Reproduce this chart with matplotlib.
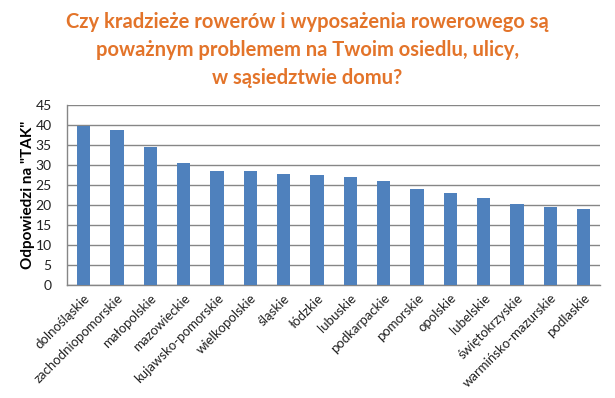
import matplotlib
matplotlib.use('Agg')
import matplotlib.pyplot as plt

plt.rcParams['font.family'] = ['Lato', 'DejaVu Sans']

regions = ['dolnośląskie', 'zachodniopomorskie', 'małopolskie', 'mazowieckie',
           'kujawsko-pomorskie', 'wielkopolskie', 'śląskie', 'łódzkie', 'lubuskie',
           'podkarpackie', 'pomorskie', 'opolskie', 'lubelskie', 'świętokrzyskie',
           'warmińsko-mazurskie', 'podlaskie']
tak = [39.7, 38.7, 34.4, 30.5, 28.5, 28.5, 27.7, 27.5, 27.0,
       26.0, 24.0, 23.0, 21.8, 20.3, 19.5, 19.0]
yticks = list(range(0, 50, 5))

fig = plt.figure(figsize=(6.15, 3.98), dpi=100)
ax = fig.add_axes([0.109, 0.284, 0.867, 0.452])

ax.bar(range(len(regions)), tak, width=0.4, color='#4F81BD', zorder=3)
ax.set_xlim(-0.5, len(regions) - 0.5)
ax.set_ylim(0, 45)
ax.set_yticks(yticks)
ax.set_yticklabels([str(t) for t in yticks], fontsize=10, color='#222222')
ax.set_xticks(range(len(regions)))
ax.set_xticklabels(regions, rotation=45, ha='right', rotation_mode='anchor',
                   fontsize=9.5, color='#222222')
ax.tick_params(axis='both', length=0)
ax.tick_params(axis='x', pad=5)
ax.tick_params(axis='y', pad=11)
ax.yaxis.grid(True, color='#868686', linewidth=1, zorder=0)

for s in ['top', 'right']:
    ax.spines[s].set_visible(False)
for s in ['left', 'bottom']:
    ax.spines[s].set_color('#868686')
    ax.spines[s].set_linewidth(1)

ax.set_ylabel('Odpowiedzi na "TAK"', fontsize=11, fontweight='bold')
ax.yaxis.set_label_coords(-0.06, 0.5)

fig.text(0.5, 0.97, 'Czy kradzieże rowerów i wyposażenia rowerowego są\n'
         'poważnym problemem na Twoim osiedlu, ulicy,\n'
         'w sąsiedztwie domu?', ha='center', va='top', fontsize=14.5,
         fontweight='bold', color='#E3742A', linespacing=1.5)

fig.savefig('out.png', dpi=100)
